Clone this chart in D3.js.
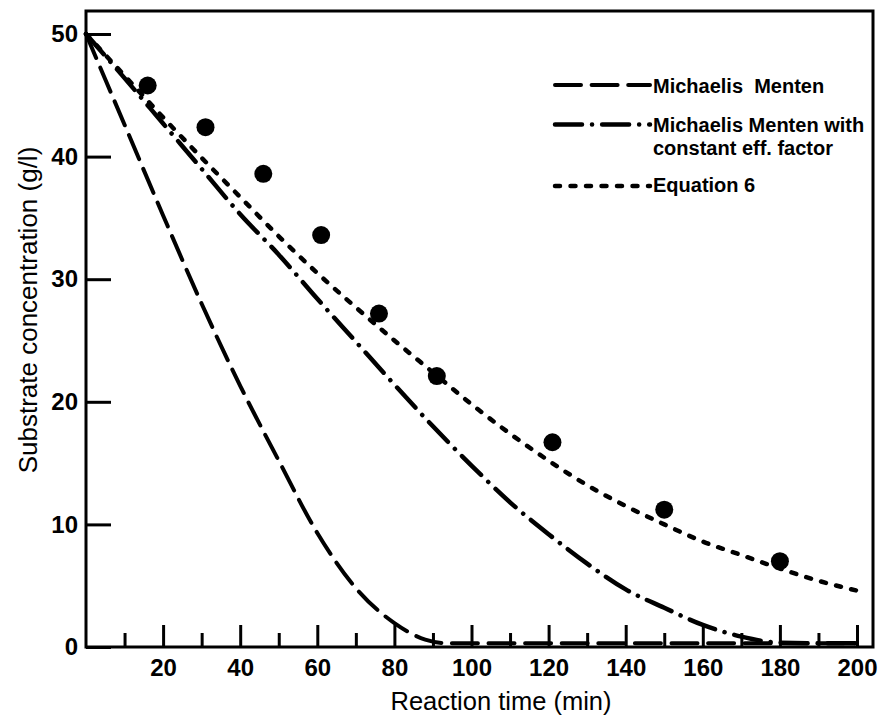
<!DOCTYPE html>
<html><head><meta charset="utf-8">
<script src="https://cdn.jsdelivr.net/npm/d3@7"></script>
<style>
body{margin:0;background:#fff}
text{font-family:"Liberation Sans",Arial,sans-serif;fill:#000}
</style>
</head><body>
<svg id="c" width="879" height="721"></svg>
<script>
// ---- data ----
const mmX   = [0,10,20,30,40,50,60,70,80,88,94,110,130,150,170,190,200];
const mmY   = [50,42.6,35.2,28.0,21.3,15.2,9.3,4.8,1.95,0.6,0.3,0.3,0.3,0.3,0.3,0.3,0.3];
const effX  = [0,10,20,30,40,50,60,70,80,90,100,110,120,130,140,150,160,170,180,190,200];
const effY  = [50,46.4,42.7,39.0,35.3,32.0,28.4,24.9,21.4,18.0,14.8,11.8,9.2,6.8,4.7,3.2,1.8,0.85,0.35,0.3,0.3];
const eq6X  = [0,10,20,30,40,50,60,70,80,90,100,110,120,130,140,150,160,170,180,190,200];
const eq6Y  = [50,46.6,43.2,39.9,36.7,33.5,30.5,27.7,25.0,22.4,19.8,17.4,15.2,13.2,11.5,10.0,8.6,7.5,6.4,5.4,4.6];
const ptX   = [16,31,46,61,76,91,121,150,180];
const ptY   = [45.8,42.4,38.6,33.6,27.2,22.1,16.7,11.2,7.0];
const xMajor = [20,40,60,80,100,120,140,160,180,200];
const xMinor = [10,30,50,70,90,110,130,150,170,190];
const yTicks = [0,10,20,30,40,50];
const legendLabels = [["Michaelis  Menten"],["Michaelis Menten with","constant eff. factor"],["Equation 6"]];

const svg = d3.select("#c");
const x = d3.scaleLinear().domain([0,200]).range([86,857]);
const y = d3.scaleLinear().domain([0,50]).range([647,34]);

// frame
const L=86, R=873, T=11, B=647;
svg.append("rect").attr("x",L).attr("y",T).attr("width",R-L).attr("height",B-T)
  .attr("fill","none").attr("stroke","#000").attr("stroke-width",3);

// x axis major
const gx = svg.append("g").attr("transform",`translate(0,${B})`)
  .call(d3.axisBottom(x).tickValues(xMajor).tickSize(-22).tickPadding(12).tickFormat(d3.format("d")));
gx.select(".domain").remove();
gx.selectAll("line").attr("stroke","#000").attr("stroke-width",3);
gx.selectAll("text").attr("font-size",24).attr("font-weight","bold");
// x axis minor
const gxm = svg.append("g").attr("transform",`translate(0,${B})`)
  .call(d3.axisBottom(x).tickValues(xMinor).tickSize(-14).tickFormat(""));
gxm.select(".domain").remove();
gxm.selectAll("line").attr("stroke","#000").attr("stroke-width",3);

// y axis
const gy = svg.append("g").attr("transform",`translate(${L},0)`)
  .call(d3.axisLeft(y).tickValues(yTicks).tickSize(-25).tickPadding(8).tickFormat(d3.format("d")));
gy.select(".domain").remove();
gy.selectAll("line").attr("stroke","#000").attr("stroke-width",3);
gy.selectAll("text").attr("font-size",24).attr("font-weight","bold");

// axis titles
svg.append("text").attr("x",501).attr("y",710).attr("text-anchor","middle")
  .attr("font-size",25.5).text("Reaction time (min)");
svg.append("text").attr("transform","translate(37,310) rotate(-90)").attr("text-anchor","middle")
  .attr("font-size",26).text("Substrate concentration (g/l)");

// curves
const line = d3.line().x(d=>x(d[0])).y(d=>y(d[1])).curve(d3.curveMonotoneX);
const styles = [
  {xs:mmX, ys:mmY, dash:"26,10.6", w:4},
  {xs:effX, ys:effY, dash:"27,10,0.1,10", w:4.5},
  {xs:eq6X, ys:eq6Y, dash:"5,10.5", w:4.5}
];
styles.forEach(s=>{
  svg.append("path").datum(d3.zip(s.xs,s.ys)).attr("d",line)
    .attr("fill","none").attr("stroke","#000").attr("stroke-width",s.w)
    .attr("stroke-linecap","round").attr("stroke-dasharray",s.dash);
});

// points
svg.append("g").selectAll("circle").data(d3.zip(ptX,ptY)).join("circle")
  .attr("cx",d=>x(d[0])).attr("cy",d=>y(d[1])).attr("r",9).attr("fill","#000");

// legend
const legY = [85,124.5,186];
const legTextY = [[93],[131.5,154.5],[192]];
legendLabels.forEach((lab,i)=>{
  svg.append("line").attr("x1",555).attr("x2",650).attr("y1",legY[i]).attr("y2",legY[i])
    .attr("stroke","#000").attr("stroke-width",styles[i].w).attr("stroke-linecap","round")
    .attr("stroke-dasharray",styles[i].dash);
  lab.forEach((t,j)=>{
    svg.append("text").attr("x",653).attr("y",legTextY[i][j]).attr("font-size",20)
      .attr("font-weight","bold").style("white-space","pre").text(t);
  });
});
</script>
</body></html>
